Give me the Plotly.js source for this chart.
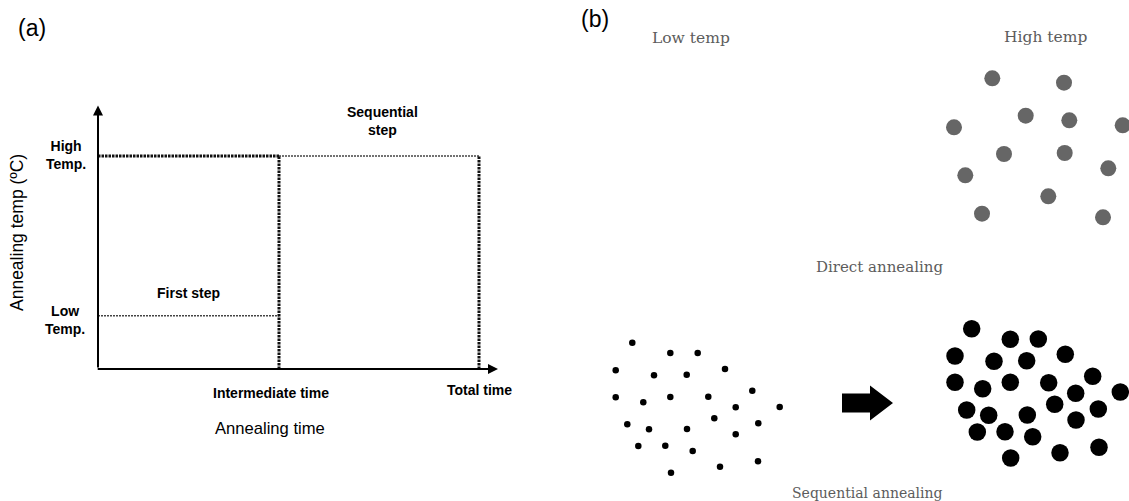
<!DOCTYPE html>
<html>
<head>
<meta charset="utf-8">
<script src="https://cdn.plot.ly/plotly-3.0.1.min.js"></script>
<style>
  html, body { margin: 0; padding: 0; background: #ffffff; }
  #chart { width: 1129px; height: 501px; }
</style>
</head>
<body>
<div id="chart"></div>
<script>
// ---------- (a) annealing schedule ----------
// time in arbitrary units, temperature in arbitrary units
const intermediateTime = 1.0;
const totalTime = 2.105;
const lowTemp = 1;
const highTemp = 4;
const timeAxisEnd = 2.21;
const tempAxisEnd = 4.95;

const tempTickLabels = ['Low<br>Temp.', 'High<br>Temp.'];
const timeTickLabels = ['Intermediate time', 'Total time'];

// ---------- (b) particle positions (panel units) ----------
const lowTempX = [52.3, 90.3, 117.7, 35.7, 74, 106.7, 145, 35.7, 63.3, 90.3, 128.3, 172.3, 155.7,
                  199.7, 47.3, 69, 107, 134.3, 178.3, 155.7, 58.3, 85.3, 112.7, 91, 140, 178];
const lowTempY = [342.7, 353, 353, 370.3, 375.3, 374.7, 369, 397.3, 402.3, 397, 396.7, 390.7, 407.3,
                  407, 424.3, 429.3, 429, 418.3, 423.3, 434.3, 446, 445.7, 451, 472.7, 466.7, 461.3];

const directX = [412.3, 484, 445.7, 489.3, 374, 542.7, 424, 484.7, 528.3, 385.3, 468.3, 402, 523];
const directY = [78.3, 82.7, 115.7, 120.3, 127.3, 125.3, 154, 153, 168.3, 175.3, 196.3, 213.7, 217.3];

const sequentialX = [391.7, 430.3, 458.3, 375, 414, 446.7, 485.3, 375, 402.7, 430.3, 468.7, 512.7, 495.7,
                     540.3, 386.7, 408.7, 447.3, 474.7, 518.3, 496, 397.3, 425, 452.7, 430.7, 480, 519];
const sequentialY = [328.7, 339.3, 339, 356, 361.3, 360.7, 354.3, 382.3, 388.7, 382.3, 382.7, 376.3, 393.3,
                     392, 410, 415.3, 415, 404.3, 409, 420, 432, 431.7, 436.7, 458, 452.7, 447.3];

const W = 1129, H = 501;
const sansFont = 'Liberation Sans, Arial, sans-serif';
const serifFont = 'DejaVu Serif, serif';

const thick = { color: '#111111', width: 3, dash: '2.5px,1px' };
const thin = { color: '#444444', width: 1.5, dash: '2px,1px' };

function seg(x, y, line) {
  return { type: 'scatter', mode: 'lines', x: x, y: y, line: line,
           xaxis: 'x', yaxis: 'y', hoverinfo: 'skip', cliponaxis: false };
}

const traces = [
  seg([0, intermediateTime], [highTemp, highTemp], thick),
  seg([intermediateTime, totalTime], [highTemp, highTemp], thin),
  seg([0, intermediateTime], [lowTemp, lowTemp], thin),
  seg([intermediateTime, intermediateTime], [0, highTemp], thick),
  seg([totalTime, totalTime], [0, highTemp], thick),
  { type: 'scatter', mode: 'markers', x: directX, y: directY, xaxis: 'x2', yaxis: 'y2',
    marker: { size: 16, color: '#666666' }, hoverinfo: 'skip' },
  { type: 'scatter', mode: 'markers', x: lowTempX, y: lowTempY, xaxis: 'x2', yaxis: 'y2',
    marker: { size: 6.5, color: '#000000' }, hoverinfo: 'skip' },
  { type: 'scatter', mode: 'markers', x: sequentialX, y: sequentialY, xaxis: 'x2', yaxis: 'y2',
    marker: { size: 17.5, color: '#000000' }, hoverinfo: 'skip' }
];

// block arrow between the two particle groups, built from tail/tip and widths
function blockArrow(x0, x1, yc, shaftHalf, headHalf, headLen) {
  const xh = x1 - headLen;
  return `M ${x0},${yc - shaftHalf} L ${xh},${yc - shaftHalf} L ${xh},${yc - headHalf} ` +
         `L ${x1},${yc} L ${xh},${yc + headHalf} L ${xh},${yc + shaftHalf} L ${x0},${yc + shaftHalf} Z`;
}

const shapes = [
  { type: 'path', xref: 'x2', yref: 'y2', path: blockArrow(262, 313, 403, 9.5, 17.5, 23),
    fillcolor: '#000000', line: { width: 0 } }
];

const px = v => v / W;
const py = v => 1 - v / H;

function label(text, opts, font) {
  return Object.assign({ text: text, showarrow: false, xanchor: 'center', yanchor: 'middle',
                         align: 'center', font: font }, opts);
}

const tickFont = { family: sansFont, size: 14, color: '#000', weight: 'bold' };
const titleFont = { family: sansFont, size: 16.6, color: '#000' };
const captionFont = { family: serifFont, size: 15.5, color: '#5c5c5c' };

const annotations = [
  // axes with arrowheads
  { x: timeAxisEnd, y: 0, ax: -0.01, ay: 0, xref: 'x', yref: 'y', axref: 'x', ayref: 'y',
    text: '', showarrow: true, arrowhead: 2, arrowsize: 1, arrowwidth: 2, arrowcolor: '#000' },
  { x: 0, y: tempAxisEnd, ax: 0, ay: 0, xref: 'x', yref: 'y', axref: 'x', ayref: 'y',
    text: '', showarrow: true, arrowhead: 2, arrowsize: 1, arrowwidth: 2, arrowcolor: '#000' },

  // temperature tick labels
  label(tempTickLabels[1], { xref: 'paper', x: px(66), yref: 'y', y: highTemp, yshift: 1 }, tickFont),
  label(tempTickLabels[0], { xref: 'paper', x: px(65), yref: 'y', y: lowTemp, yshift: -4 }, tickFont),

  // time tick labels
  label(timeTickLabels[0], { xref: 'x', x: intermediateTime, xshift: -8, yref: 'paper', y: py(393) }, tickFont),
  label(timeTickLabels[1], { xref: 'x', x: totalTime, yref: 'paper', y: py(390) }, tickFont),

  // step labels
  label('First step', { xref: 'x', x: 0.5, yref: 'y', y: 1.43 }, tickFont),
  label('Sequential<br>step', { xref: 'x', x: 1.57, yref: 'y', y: 4.66 }, tickFont),

  // axis titles
  label('Annealing time', { xref: 'paper', x: px(270), yref: 'paper', y: py(428) }, titleFont),
  label('Annealing temp (ºC)', { xref: 'paper', x: px(17), yref: 'paper', y: py(233), textangle: -90 },
        { family: sansFont, size: 17.5, color: '#000' }),

  // panel letters
  label('(a)', { xref: 'paper', x: px(32), yref: 'paper', y: py(28) }, { family: sansFont, size: 23, color: '#000' }),
  label('(b)', { xref: 'paper', x: px(595), yref: 'paper', y: py(19) }, { family: sansFont, size: 23, color: '#000' }),

  // panel (b) captions
  label('Low temp', { xref: 'x2', x: 111, yref: 'y2', y: 38 }, captionFont),
  label('High temp', { xref: 'x2', x: 465, yref: 'y2', y: 37 }, captionFont),
  label('Direct annealing', { xref: 'x2', x: 299, yref: 'y2', y: 267 },
        { family: serifFont, size: 15, color: '#5c5c5c' }),
  label('Sequential annealing', { xref: 'x2', x: 287, yref: 'y2', y: 493 },
        { family: serifFont, size: 14, color: '#5c5c5c' })
];

const hidden = { showgrid: false, zeroline: false, showticklabels: false, showline: false, ticks: '' };

const layout = {
  width: W, height: H,
  margin: { l: 0, r: 0, t: 0, b: 0, pad: 0 },
  paper_bgcolor: '#ffffff', plot_bgcolor: 'rgba(0,0,0,0)',
  showlegend: false,
  xaxis: Object.assign({ domain: [98 / W, 498 / W], range: [0, timeAxisEnd], anchor: 'y' }, hidden),
  yaxis: Object.assign({ domain: [py(369), py(369 - tempAxisEnd * 53.25)], range: [0, tempAxisEnd], anchor: 'x' }, hidden),
  xaxis2: Object.assign({ domain: [580 / W, 1], range: [0, 549], anchor: 'y2' }, hidden),
  yaxis2: Object.assign({ domain: [0, 1], range: [501, 0], anchor: 'x2' }, hidden),
  shapes: shapes,
  annotations: annotations
};

Plotly.newPlot('chart', traces, layout, { staticPlot: true, displayModeBar: false });
</script>
</body>
</html>
